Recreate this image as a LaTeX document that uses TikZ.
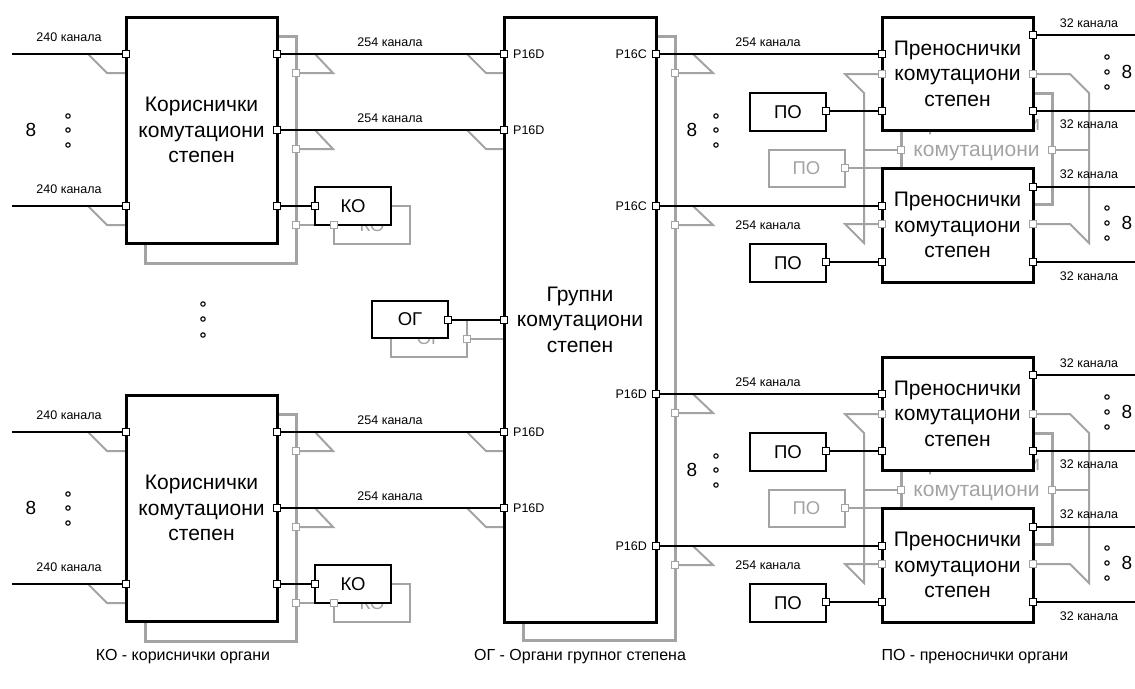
\documentclass[tikz,border=0pt]{standalone}
\usepackage{fontspec}
\setmainfont{Liberation Sans}
\definecolor{gr}{RGB}{163,163,163}
\pgfdeclarelayer{shadow}
\pgfdeclarelayer{boxes}
\pgfdeclarelayer{ports}
\pgfsetlayers{shadow,boxes,main,ports}
\begin{document}
\begin{tikzpicture}[x=1pt,y=-1pt,
 blk/.style={draw, line width=3pt, fill=white, inner sep=0pt, font=\fontsize{21}{25.5}\selectfont, align=center},
 gblk/.style={draw=gr, line width=3pt, inner sep=0pt, text=gr, font=\fontsize{21}{25.5}\selectfont, align=center},
 sbox/.style={draw, line width=2pt, fill=white, minimum width=76pt, minimum height=38pt, inner sep=0pt, font=\fontsize{18.5}{22}\selectfont},
 gsbox/.style={draw=gr, line width=2pt, minimum width=76pt, minimum height=38pt, inner sep=0pt, text=gr, font=\fontsize{18.5}{22}\selectfont},
 port/.style={draw, fill=white, line width=1.3pt, minimum size=7pt, inner sep=0pt, outer sep=0pt},
 gport/.style={port, draw=gr},
 conn/.style={line width=2pt},
 gconn/.style={draw=gr, line width=2pt},
 lbl/.style={inner sep=0pt, font=\fontsize{12.5}{15}\selectfont},
 num/.style={inner sep=0pt, font=\fontsize{19}{22}\selectfont},
 dotc/.style={draw, fill=white, line width=1.1pt},
 legend/.style={inner sep=0pt, font=\fontsize{16}{19}\selectfont}
]
\useasboundingbox (0,0) rectangle (1135,688);

% ================= LEFT BLOCKS =================
\foreach \s/\n in {0/a,378/b}{
\begin{scope}[shift={(0,\s)}]
 \begin{pgfonlayer}{boxes}
  \node[blk, minimum width=151pt, minimum height=226pt] (K\n) at (201.5,130) {Кориснички\\комутациони\\степен};
  \node[sbox] (KO\n) at (353,206) {КО};
 \end{pgfonlayer}
 \begin{pgfonlayer}{shadow}
  \draw[gblk] (145,36) rectangle (296,263);
  \node[gsbox] (gKO\n) at (372,225) {КО};
 \end{pgfonlayer}
 \begin{pgfonlayer}{ports}
  \node[port] (Ki1\n) at (126,54) {};
  \node[port] (Ki2\n) at (126,206) {};
  \node[port] (Ko1\n) at (277,54) {};
  \node[port] (Ko2\n) at (277,130) {};
  \node[port] (Ko3\n) at (277,206) {};
  \node[port] (KOp\n) at (315,206) {};
  \node[port] (Gi1\n) at (504,54) {};
  \node[port] (Gi2\n) at (504,130) {};
  \node[gport] (gKo1\n) at (296,73) {};
  \node[gport] (gKo2\n) at (296,149) {};
  \node[gport] (gKo3\n) at (296,225) {};
  \node[gport] (gKOp\n) at (334,225) {};
 \end{pgfonlayer}
 \coordinate (Kf1\n) at (12,54);
 \coordinate (Kf2\n) at (12,206);
 \draw[conn] (Kf1\n) -- (Ki1\n);
 \draw[conn] (Kf2\n) -- (Ki2\n);
 \draw[conn] (Ko1\n) -- (Gi1\n);
 \draw[conn] (Ko2\n) -- (Gi2\n);
 \draw[conn] (Ko3\n) -- (KOp\n);
 \begin{pgfonlayer}{shadow}
  \draw[gconn] (88,54) -- (107,73) -- (126,73);
  \draw[gconn] (88,206) -- (107,225) -- (126,225);
  \draw[gconn] (gKo1\n) -- (333,73) -- (315,54);
  \draw[gconn] (gKo2\n) -- (333,149) -- (315,130);
  \draw[gconn] (gKo3\n) -- (gKOp\n);
  \draw[gconn] (467,54) -- (486,73) -- (504,73);
  \draw[gconn] (467,130) -- (486,149) -- (504,149);
 \end{pgfonlayer}
 \node[lbl] (Lk1\n) at (69,37) {240 канала};
 \node[lbl] (Lk2\n) at (69,189) {240 канала};
 \node[lbl] (Lc1\n) at (390,42) {254 канала};
 \node[lbl] (Lc2\n) at (390,118) {254 канала};
 \node[lbl, anchor=west] (Lp1\n) at (513,54) {P16D};
 \node[lbl, anchor=west] (Lp2\n) at (513,130) {P16D};
 \node[num] (N\n) at (31,130) {8};
 \draw[dotc] (68,116) circle (2.2pt) (68,130) circle (2.2pt) (68,145) circle (2.2pt);
\end{scope}
}

% ================= GROUP BLOCK =================
\begin{pgfonlayer}{boxes}
 \node[blk, minimum width=152pt, minimum height=605pt] (G) at (580,319.5) {Групни\\комутациони\\степен};
 \node[sbox, minimum height=37pt] (OG) at (410,319.5) {ОГ};
\end{pgfonlayer}
\begin{pgfonlayer}{shadow}
 \draw[gblk] (523,36) rectangle (675,640);
 \node[gsbox, minimum height=37pt] (gOG) at (429,338.5) {ОГ};
\end{pgfonlayer}
\begin{pgfonlayer}{ports}
 \node[port] (OGp) at (448,320) {};
 \node[port] (Gi3) at (504,320) {};
 \node[gport] (gOGp) at (467,339) {};
\end{pgfonlayer}
\draw[conn] (OGp) -- (Gi3);
\begin{pgfonlayer}{shadow}
 \draw[gconn] (gOGp) -- (504,339);
\end{pgfonlayer}
\draw[dotc] (203,304) circle (2.2pt) (203,319) circle (2.2pt) (203,335) circle (2.2pt);

% ================= TRANSMISSION BLOCKS =================
\foreach \t/\n/\lab in {0/a/P16C,340/b/P16D}{
\begin{scope}[shift={(0,\t)}]
 \begin{pgfonlayer}{boxes}
  \node[blk, minimum width=151pt, minimum height=113pt] (T1\n) at (957.5,73.5) {Преноснички\\комутациони\\степен};
  \node[blk, minimum width=151pt, minimum height=114pt] (T2\n) at (957.5,225) {Преноснички\\комутациони\\степен};
  \node[sbox] (PO1\n) at (788,112) {ПО};
  \node[sbox] (PO2\n) at (788,263) {ПО};
 \end{pgfonlayer}
 \begin{pgfonlayer}{shadow}
  \node[gblk, minimum width=151pt, minimum height=111pt] (gT\n) at (976.5,149) {Преноснички\\комутациони\\степен};
  \node[gsbox, minimum height=37pt] (gPO\n) at (806.5,168.5) {ПО};
 \end{pgfonlayer}
 \begin{pgfonlayer}{ports}
  \node[port] (Go1\n) at (656,54) {};
  \node[port] (Go2\n) at (656,206) {};
  \node[port] (Ti1\n) at (882,54) {};
  \node[port] (Ti2\n) at (882,111) {};
  \node[port] (Ti3\n) at (882,206) {};
  \node[port] (Ti4\n) at (882,262) {};
  \node[port] (To1\n) at (1033,35) {};
  \node[port] (To2\n) at (1033,111) {};
  \node[port] (To3\n) at (1033,187) {};
  \node[port] (To4\n) at (1033,262) {};
  \node[port] (POp1\n) at (826,111) {};
  \node[port] (POp2\n) at (826,262) {};
  \node[gport] (gGo1\n) at (675,73) {};
  \node[gport] (gGo2\n) at (675,225) {};
  \node[gport] (gTi1\n) at (882,74) {};
  \node[gport] (gTi2\n) at (882,224) {};
  \node[gport] (gTo1\n) at (1033,74) {};
  \node[gport] (gTo2\n) at (1033,224) {};
  \node[gport] (gTl\n) at (901,150) {};
  \node[gport] (gTr\n) at (1052,150) {};
  \node[gport] (gPOp\n) at (845,168) {};
 \end{pgfonlayer}
 \coordinate (Tf1\n) at (1135,35);
 \coordinate (Tf2\n) at (1135,111);
 \coordinate (Tf3\n) at (1135,187);
 \coordinate (Tf4\n) at (1135,262);
 \draw[conn] (Go1\n) -- (Ti1\n);
 \draw[conn] (Go2\n) -- (Ti3\n);
 \draw[conn] (POp1\n) -- (Ti2\n);
 \draw[conn] (POp2\n) -- (Ti4\n);
 \draw[conn] (To1\n) -- (Tf1\n);
 \draw[conn] (To2\n) -- (Tf2\n);
 \draw[conn] (To3\n) -- (Tf3\n);
 \draw[conn] (To4\n) -- (Tf4\n);
 \begin{pgfonlayer}{shadow}
  \draw[gconn] (gGo1\n) -- (713,73) -- (693,54);
  \draw[gconn] (gGo2\n) -- (713,225) -- (693,206);
  \draw[gconn] (gTi1\n) -- (845,74) -- (864,93) -- (864,243) -- (845,224) -- (gTi2\n);
  \draw[gconn] (864,150) -- (gTl\n);
  \draw[gconn] (gTo1\n) -- (1070,74) -- (1089,93) -- (1089,243) -- (1070,224) -- (gTo2\n);
  \draw[gconn] (gTr\n) -- (1089,150);
  \draw[gconn] (gPOp\n) -- (882,168);
 \end{pgfonlayer}
 \node[lbl, anchor=east] (Lr1\n) at (647,54) {\lab};
 \node[lbl, anchor=east] (Lr2\n) at (647,206) {\lab};
 \node[lbl] (Lt1\n) at (768,42) {254 канала};
 \node[lbl] (Lt2\n) at (768,225) {254 канала};
 \node[lbl] (Lo1\n) at (1089,23) {32 канала};
 \node[lbl] (Lo2\n) at (1089,124) {32 канала};
 \node[lbl] (Lo3\n) at (1089,174) {32 канала};
 \node[lbl] (Lo4\n) at (1089,276) {32 канала};
 \node[num] (Nm\n) at (692,130) {8};
 \draw[dotc] (716,116) circle (2.2pt) (716,130) circle (2.2pt) (716,145) circle (2.2pt);
 \node[num] (Nr1\n) at (1127,72) {8};
 \draw[dotc] (1107,57) circle (2.2pt) (1107,72) circle (2.2pt) (1107,87) circle (2.2pt);
 \node[num] (Nr2\n) at (1127,223) {8};
 \draw[dotc] (1107,208) circle (2.2pt) (1107,223) circle (2.2pt) (1107,238) circle (2.2pt);
\end{scope}
}

% ================= LEGEND =================
\node[legend] (leg1) at (183,657) {КО - кориснички органи};
\node[legend] (leg2) at (580,657) {ОГ - Органи групног степена};
\node[legend] (leg3) at (975,657) {ПО - преноснички органи};
\end{tikzpicture}
\end{document}
